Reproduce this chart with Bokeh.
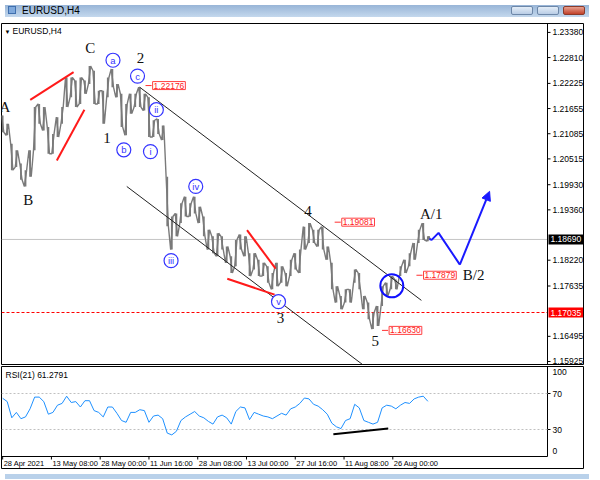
from bokeh.plotting import figure
from bokeh.models import Range1d, Span, Label, Arrow, NormalHead, Div
from bokeh.layouts import column
from bokeh.embed import file_html
from bokeh.resources import INLINE
from bokeh.core.properties import value

# ---------------- data ----------------
BAR_STEP = 6  # H4 bars between samples

highs = [1.2150, 1.2131, 1.2086, 1.2071, 1.2041, 1.2026, 1.2071, 1.2169, 1.2176, 1.2169,
         1.2124, 1.2108, 1.2146, 1.2169, 1.2236, 1.2236, 1.2229, 1.2236, 1.2229, 1.2262,
         1.2251, 1.2206, 1.2206, 1.2236, 1.2255, 1.2221, 1.2199, 1.2176, 1.2199, 1.2199,
         1.2214, 1.2199, 1.2191, 1.2139, 1.2142, 1.2127, 1.2011, 1.1921, 1.1928, 1.1951,
         1.1966, 1.1951, 1.1966, 1.1943, 1.1921, 1.1891, 1.1876, 1.1883, 1.1876, 1.1853,
         1.1831, 1.1868, 1.1880, 1.1876, 1.1838, 1.1838, 1.1823, 1.1816, 1.1808, 1.1793,
         1.1816, 1.1808, 1.1793, 1.1823, 1.1838, 1.1846, 1.1898, 1.1906, 1.1891, 1.1891,
         1.1898, 1.1853, 1.1816, 1.1763, 1.1741, 1.1756, 1.1756, 1.1801, 1.1793, 1.1741,
         1.1726, 1.1703, 1.1718, 1.1763, 1.1771, 1.1786, 1.1778, 1.1808, 1.1823, 1.1838,
         1.1861, 1.1891, 1.1906, 1.1876]
lows = [1.2112, 1.2105, 1.2026, 1.2033, 1.2004, 1.1989, 1.2011, 1.2071, 1.2131, 1.2116,
        1.2063, 1.2063, 1.2101, 1.2131, 1.2169, 1.2191, 1.2169, 1.2176, 1.2199, 1.2221,
        1.2176, 1.2176, 1.2131, 1.2191, 1.2214, 1.2191, 1.2124, 1.2105, 1.2154, 1.2169,
        1.2169, 1.2161, 1.2101, 1.2101, 1.2108, 1.2094, 1.1899, 1.1846, 1.1876, 1.1906,
        1.1921, 1.1921, 1.1928, 1.1906, 1.1876, 1.1846, 1.1838, 1.1831, 1.1846, 1.1816,
        1.1793, 1.1808, 1.1846, 1.1831, 1.1786, 1.1801, 1.1786, 1.1786, 1.1771, 1.1756,
        1.1763, 1.1771, 1.1763, 1.1786, 1.1801, 1.1793, 1.1846, 1.1861, 1.1861, 1.1853,
        1.1846, 1.1823, 1.1756, 1.1726, 1.1711, 1.1726, 1.1726, 1.1771, 1.1756, 1.1711,
        1.1688, 1.1666, 1.1673, 1.1718, 1.1741, 1.1756, 1.1756, 1.1786, 1.1793, 1.1808,
        1.1823, 1.1861, 1.1868, 1.1865]
last_close = 1.18690
support_level = 1.17035

rsi_values = [64.7, 61, 43, 49, 42, 44, 53, 66, 66, 61,
              47, 49, 57, 59, 67, 60, 61, 55, 62, 62,
              51, 49, 44, 55, 55, 48, 40, 38, 49, 49,
              52, 51, 38, 45, 46, 42, 26, 24, 28, 40,
              44, 47, 50, 45, 43, 39, 36, 44, 46, 43,
              36, 50, 55, 54, 41, 49, 47, 45, 44, 42,
              45, 48, 46, 53, 55, 59, 65, 64, 58, 56,
              52, 47, 37, 33, 31, 40, 42, 58, 54, 40,
              38, 36, 38, 54, 57, 56, 53, 57, 60, 59,
              64, 66, 67, 61.3]
rsi_last = "61.2791"

time_tick_bars = [0, 64, 128, 192, 256, 320, 384, 448, 512]
time_tick_labels = ["28 Apr 2021", "13 May 08:00", "28 May 00:00", "11 Jun 16:00",
                    "28 Jun 08:00", "13 Jul 00:00", "27 Jul 16:00", "11 Aug 08:00",
                    "26 Aug 00:00"]
price_ticks = [1.15925, 1.16495, 1.17635, 1.18220, 1.19360, 1.19930, 1.20515,
               1.21085, 1.21655, 1.22225, 1.22810, 1.23380]
rsi_ticks = [0, 30, 70, 100]

wave_text = ["A", "B", "C", "1", "2", "3", "4", "5", "A/1", "B/2"]
wave_bar = [3, 33.6, 115, 137, 181, 364.6, 400.8, 488.8, 562.5, 618]
wave_price = [1.2169, 1.1958, 1.2302, 1.2099, 1.2280, 1.1690, 1.1933, 1.1638, 1.1926, 1.1789]

sub_text = ["a", "b", "c", "i", "ii", "iii", "iv", "v"]
sub_bar = [144.8, 159, 177, 194, 201.7, 221, 253.4, 362]
sub_price = [1.2275, 1.2072, 1.2239, 1.2068, 1.2163, 1.1821, 1.1989, 1.1728]

mark_price = [1.22176, 1.19081, 1.17879, 1.16630]
mark_bar = [187.5, 435.7, 543, 497.8]

channel_x0 = [179.7, 162.9]
channel_y0 = [1.2214, 1.1989]
channel_x1 = [549.5, 472]
channel_y1 = [1.1731, 1.1586]

red_x0 = [36.2, 71.1, 320.7, 294.8]
red_y0 = [1.2185, 1.2048, 1.1890, 1.1780]
red_x1 = [93.1, 107.3, 358.2, 356.9]
red_y1 = [1.2248, 1.2163, 1.1803, 1.1744]

proj_bar = [560, 563, 572, 600, 639]
proj_price = [1.1870, 1.1868, 1.1884, 1.1812, 1.1978]

circle_bar = [510.7]
circle_price = [1.1764]

rsi_div_bar = [434, 506]
rsi_div_val = [24.7, 31.0]

# ---------------- styling ----------------
W = 584
X0, X1 = -1.5, 715          # bar span of the price area
PLOT_PX, AXIS_PX = 546, 36   # price area / right scale area widths
BPP = (X1 - X0) / PLOT_PX    # bars per pixel
X_END = X1 + AXIS_PX * BPP
Y0, Y1 = 1.15857, 1.23582
BLUE = "#3535ff"
GREY = "#7a7a7a"
AXFONT = "Liberation Sans"
FS = "8.5px"
TFS = "7.5px"

# ---------------- title bar ----------------
title_html = (
    '<div style="position:relative;width:584px;height:12px;overflow:hidden;">'
    '<span style="position:absolute;left:3px;top:1px;width:8px;height:8px;'
    'background:#7fa9dc;border:1px solid #3f6fae;"></span>'
    '<span style="position:absolute;left:17px;top:0px;font-family:\'Liberation Sans\';'
    'font-size:10px;line-height:12px;color:#000;">EURUSD,H4</span>'
    '<span style="position:absolute;left:506px;top:1px;width:22px;height:9px;'
    'border:1px solid #6d87a8;border-radius:2px;background:linear-gradient(#e4edf7,#b9cde6);"></span>'
    '<span style="position:absolute;left:532px;top:1px;width:22px;height:9px;'
    'border:1px solid #6d87a8;border-radius:2px;background:linear-gradient(#e4edf7,#b9cde6);"></span>'
    '<span style="position:absolute;left:558px;top:1px;width:22px;height:9px;'
    'border:1px solid #8a3a2a;border-radius:2px;background:linear-gradient(#e7a08f,#c2412a);"></span>'
    '</div>'
)
title_div = Div(text=title_html, width=W, height=12,
                styles={"background": "linear-gradient(#98b5d7, #c4d8ed)"})

# ---------------- main price panel ----------------
p = figure(width=W, height=343, x_range=Range1d(X0, X_END), y_range=Range1d(Y0, Y1),
           output_backend="svg", toolbar_location=None, x_axis_location=None,
           y_axis_location=None, min_border_left=1, min_border_right=1,
           min_border_top=1, min_border_bottom=1, outline_line_color="black",
           background_fill_color="white", border_fill_color="white")
p.grid.visible = False

# price scale at the right (drawn through the price scale of the figure)
p.add_layout(Span(location=X1, dimension="height", line_color="black", line_width=1))
p.segment([X1] * len(price_ticks), price_ticks, [X1 + 3 * BPP] * len(price_ticks), price_ticks,
          line_color="black", line_width=1)
p.text([X1] * len(price_ticks), price_ticks, text=[f"{t:.5f}" for t in price_ticks],
       x_offset=5, text_align="left", text_baseline="middle", text_font=value(AXFONT),
       text_font_size=FS, text_color="black")

# horizontal levels (stop at the price scale)
p.segment([X0], [last_close], [X1], [last_close], line_color="#c4c4c4", line_width=1)
p.segment([X0], [support_level], [X1], [support_level], line_color="red",
          line_width=1, line_dash="3 2")

# price bars drawn as a jagged high/low path
xs = [i * BAR_STEP for i in range(len(highs))]
path_x, path_y = [], []
for i, (x, h, l) in enumerate(zip(xs, highs, lows)):
    path_x += [x - 1.5, x + 1.5]
    path_y += ([h, l] if i % 2 == 0 else [l, h])
path_x.append(xs[-1] + 3)
path_y.append(last_close)
p.segment(xs, lows, xs, highs, line_color=GREY, line_width=1.8)
p.line(path_x, path_y, line_color=GREY, line_width=1.4)

# channel and red trend lines
p.segment(channel_x0, channel_y0, channel_x1, channel_y1, line_color="#222222", line_width=1)
p.segment(red_x0, red_y0, red_x1, red_y1, line_color="#ff1a1a", line_width=2)

# projection path
p.line(proj_bar[:-1], proj_price[:-1], line_color="#1a1aff", line_width=2)
p.add_layout(Arrow(end=NormalHead(size=9, fill_color="#1a1aff", line_color="#1a1aff"),
                   x_start=proj_bar[-2], y_start=proj_price[-2],
                   x_end=proj_bar[-1], y_end=proj_price[-1],
                   line_color="#1a1aff", line_width=2))

# big blue circle
p.scatter(circle_bar, circle_price, marker="circle", size=23, fill_color=None,
          line_color="#1010ff", line_width=2)

# circled sub-wave labels
p.scatter(sub_bar, sub_price, marker="circle", size=14, fill_color="white",
          line_color=BLUE, line_width=1.2)
p.text(sub_bar, sub_price, text=sub_text, text_align="center", text_baseline="middle",
       text_font=value(AXFONT), text_font_size="9.5px", text_color=BLUE)

# wave labels
p.text(wave_bar, wave_price, text=wave_text, text_align="center", text_baseline="middle",
       text_font=value("Liberation Serif"), text_font_size="15px", text_color="#111111")

# price marks with red boxes
DASH = 8
p.segment(mark_bar, mark_price, [b + DASH for b in mark_bar], mark_price,
          line_color="#ff3030", line_width=1)
for b, pr in zip(mark_bar, mark_price):
    p.add_layout(Label(x=b + DASH, y=pr, x_offset=1, text=f"{pr:.5f}", text_color="#ff2020",
                       text_font=AXFONT, text_font_size=FS, text_baseline="middle",
                       background_fill_color="white", border_line_color="#ff4040",
                       padding=1))

# price tags on the scale
p.add_layout(Label(x=X1, y=last_close, x_offset=1, text=f"{last_close:.5f}", text_color="white",
                   text_font=AXFONT, text_font_size=FS, text_baseline="middle",
                   background_fill_color="black", padding=2))
p.add_layout(Label(x=X1, y=support_level, x_offset=1, text=f"{support_level:.5f}",
                   text_color="white", text_font=AXFONT, text_font_size=FS,
                   text_baseline="middle", background_fill_color="#ff0000", padding=2))

# chart caption inside the frame
p.add_layout(Label(x=X0, y=Y1, x_offset=3, y_offset=-5, text="\u25bc", text_font=AXFONT,
                   text_font_size="6px", text_baseline="top", text_color="black"))
p.add_layout(Label(x=X0, y=Y1, x_offset=11, y_offset=-2, text="EURUSD,H4", text_font=AXFONT,
                   text_font_size=FS, text_baseline="top", text_color="black"))

# ---------------- RSI panel ----------------
RSI_FRAME_PX, LABEL_PX = 90, 12
R0 = -LABEL_PX * 100.0 / RSI_FRAME_PX
r = figure(width=W, height=104, x_range=p.x_range, y_range=Range1d(R0, 100),
           output_backend="svg", toolbar_location=None, x_axis_location=None,
           y_axis_location=None, min_border_left=1, min_border_right=1,
           min_border_top=1, min_border_bottom=1, outline_line_color="black",
           background_fill_color="white", border_fill_color="white")
r.grid.visible = False

# panel bottom and right scale
r.segment([X0], [0], [X1], [0], line_color="black", line_width=1)
r.segment([X1], [0], [X1], [100], line_color="black", line_width=1)
r.segment([X1, X1], [30, 70], [X1 + 3 * BPP] * 2, [30, 70], line_color="black", line_width=1)
rsi_label_off = [6, 0, 0, -5]
for lv, off in zip(rsi_ticks, rsi_label_off):
    r.add_layout(Label(x=X1, y=lv, x_offset=5, y_offset=off, text=str(lv), text_font=AXFONT,
                       text_font_size=FS, text_baseline="middle", text_color="black"))

# time scale
r.segment(time_tick_bars, [0] * len(time_tick_bars), time_tick_bars,
          [-3 * 100.0 / RSI_FRAME_PX] * len(time_tick_bars), line_color="black", line_width=1)
for b, t in zip(time_tick_bars, time_tick_labels):
    r.add_layout(Label(x=b, y=0, x_offset=1, y_offset=-2, text=t, text_font=AXFONT,
                       text_font_size=TFS, text_baseline="top", text_align="left",
                       text_color="black"))

for lv in (30, 70):
    r.segment([X0], [lv], [X1], [lv], line_color="#c0c0c0", line_width=1, line_dash="2 2")

rsi_x = [i * BAR_STEP for i in range(len(rsi_values))]
r.line(rsi_x, rsi_values, line_color="#1e90ff", line_width=1)
r.line(rsi_div_bar, rsi_div_val, line_color="black", line_width=2)
r.add_layout(Label(x=X0, y=100, x_offset=4, y_offset=-3, text="RSI(21) " + rsi_last,
                   text_font=AXFONT, text_font_size=FS, text_baseline="top",
                   text_color="black"))

bottom_div = Div(text="", width=W, height=5, styles={"background": "#b9d1ea"})

layout = column(title_div, p, r, bottom_div, spacing=0)

with open("out.html", "w") as f:
    f.write(file_html(layout, INLINE))
